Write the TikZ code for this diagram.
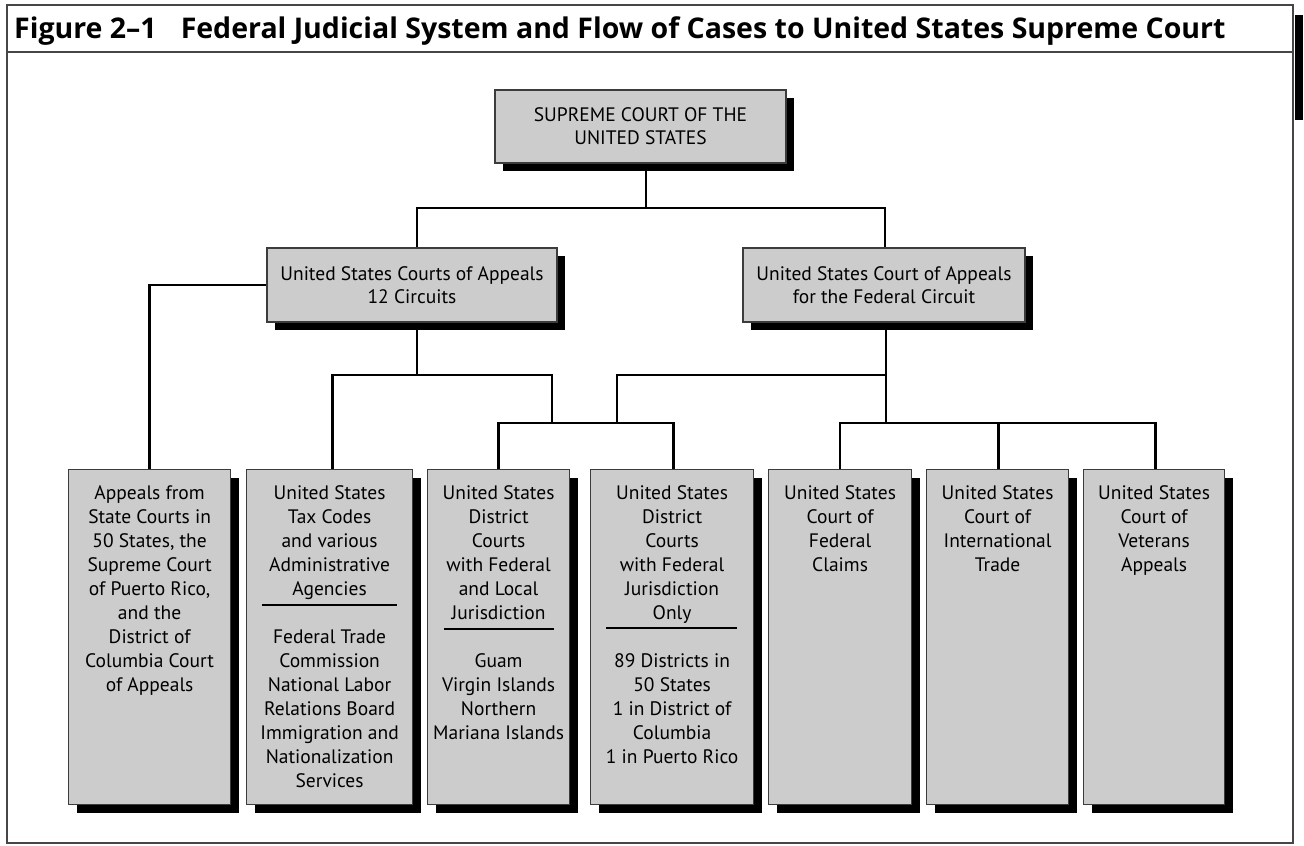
\documentclass[tikz,border=0pt]{standalone}
\usepackage{fontspec}
\setmainfont{PT Sans}
\newfontfamily\titlefont{Open Sans}[BoldFont={Open Sans Bold}]
\usetikzlibrary{shadows}
\definecolor{boxgray}{RGB}{204,204,204}
\definecolor{edgegray}{RGB}{60,60,60}
\definecolor{framegray}{RGB}{70,70,70}
\begin{document}
\begin{tikzpicture}[x=1pt,y=-1pt,
  box/.style={draw=edgegray, line width=1.2pt, fill=boxgray, inner sep=0pt,
    drop shadow={shadow xshift=8pt, shadow yshift=-8pt, fill=black, opacity=1}},
  topbox/.style={box, align=center, font=\fontsize{19.5}{23}\selectfont},
  lowbox/.style={box, minimum height=335pt, anchor=north west},
  btext/.style={align=center, inner sep=0pt, anchor=north, font=\fontsize{19.5}{24}\selectfont},
  conn/.style={draw=black, line width=2.7pt},
  divider/.style={draw=black, line width=1.4pt},
  frame/.style={draw=framegray, line width=1.6pt}
]
\useasboundingbox (0,0) rectangle (1304,846);
% frame and title bar
\fill[black] (1295,15) rectangle (1303,120);
\draw[frame] (7,5) rectangle (1293,843);
\draw[frame] (7,52) -- (1293,52);
\node[anchor=base west, inner sep=0pt, font=\titlefont\bfseries\fontsize{28.5}{32}\selectfont] (title) at (14,38.5)
  {Figure 2–1\hspace{24pt}Federal Judicial System and Flow of Cases to United States Supreme Court};

% top level
\node[topbox, minimum width=291pt, minimum height=73pt] (sc) at (640.5,126.5) {SUPREME COURT OF THE\\UNITED STATES};
\node[topbox, minimum width=290pt, minimum height=74pt] (ca) at (412,285) {United States Courts of Appeals\\12 Circuits};
\node[topbox, minimum width=282pt, minimum height=74pt] (fc) at (884,285) {United States Court of Appeals\\for the Federal Circuit};

% lower boxes
\node[lowbox, minimum width=162pt] (b1) at (68,469) {};
\node[lowbox, minimum width=166pt] (b2) at (246,469) {};
\node[lowbox, minimum width=142pt] (b3) at (427,469) {};
\node[lowbox, minimum width=163pt] (b4) at (590,469) {};
\node[lowbox, minimum width=143pt] (b5) at (768,469) {};
\node[lowbox, minimum width=142pt] (b6) at (926,469) {};
\node[lowbox, minimum width=141pt] (b7) at (1083,469) {};

\node[btext] (t1) at ([yshift=-16pt]b1.north) {Appeals from\\State Courts in\\50 States, the\\Supreme Court\\of Puerto Rico,\\and the\\District of\\Columbia Court\\of Appeals};
\node[btext] (t2) at ([yshift=-16pt]b2.north) {United States\\Tax Codes\\and various\\Administrative\\Agencies\\[24pt]Federal Trade\\Commission\\National Labor\\Relations Board\\Immigration and\\Nationalization\\Services};
\node[btext] (t3) at ([yshift=-16pt]b3.north) {United States\\District\\Courts\\with Federal\\and Local\\Jurisdiction\\[24pt]Guam\\Virgin Islands\\Northern\\Mariana Islands};
\node[btext] (t4) at ([yshift=-16pt]b4.north) {United States\\District\\Courts\\with Federal\\Jurisdiction\\Only\\[24pt]89 Districts in\\50 States\\1 in District of\\Columbia\\1 in Puerto Rico};
\node[btext] (t5) at ([yshift=-16pt]b5.north) {United States\\Court of\\Federal\\Claims};
\node[btext] (t6) at ([yshift=-16pt]b6.north) {United States\\Court of\\International\\Trade};
\node[btext] (t7) at ([yshift=-16pt]b7.north) {United States\\Court of\\Veterans\\Appeals};

% dividers
\draw[divider] ([xshift=16pt,yshift=-136pt]b2.north west) -- ([xshift=-16pt,yshift=-136pt]b2.north east);
\draw[divider] ([xshift=17pt,yshift=-160pt]b3.north west) -- ([xshift=-16pt,yshift=-160pt]b3.north east);
\draw[divider] ([xshift=16pt,yshift=-159pt]b4.north west) -- ([xshift=-17pt,yshift=-159pt]b4.north east);

% junction coordinates
\coordinate (jt) at (646,208);
\coordinate (l1) at (417,375);
\coordinate (l2) at (552,423);
\coordinate (r1) at (886,375);
\coordinate (m1) at (617,423);
\coordinate (r2) at (886,423);

% connectors
\draw[conn] ([xshift=5.5pt]sc.south) -- (jt);
\draw[conn] ([xshift=5pt]ca.north) |- (jt) -| ([xshift=1pt]fc.north);
\draw[conn] (ca.west) -| (b1.north);
\draw[conn] ([xshift=5pt]ca.south) -- (l1);
\draw[conn] ([xshift=3pt]b2.north) |- (l1) -| (l2);
\draw[conn] (b3.north) |- (l2) -| ([xshift=1.5pt]b4.north);
\draw[conn] ([xshift=2pt]fc.south) -- (r2);
\draw[conn] (r1) -| (m1);
\draw[conn] (b5.north) |- (r2) -| ([xshift=1.5pt]b7.north);
\draw[conn] ([xshift=1pt]b6.north) -- ([xshift=1pt]b6.north |- r2);
\end{tikzpicture}
\end{document}
